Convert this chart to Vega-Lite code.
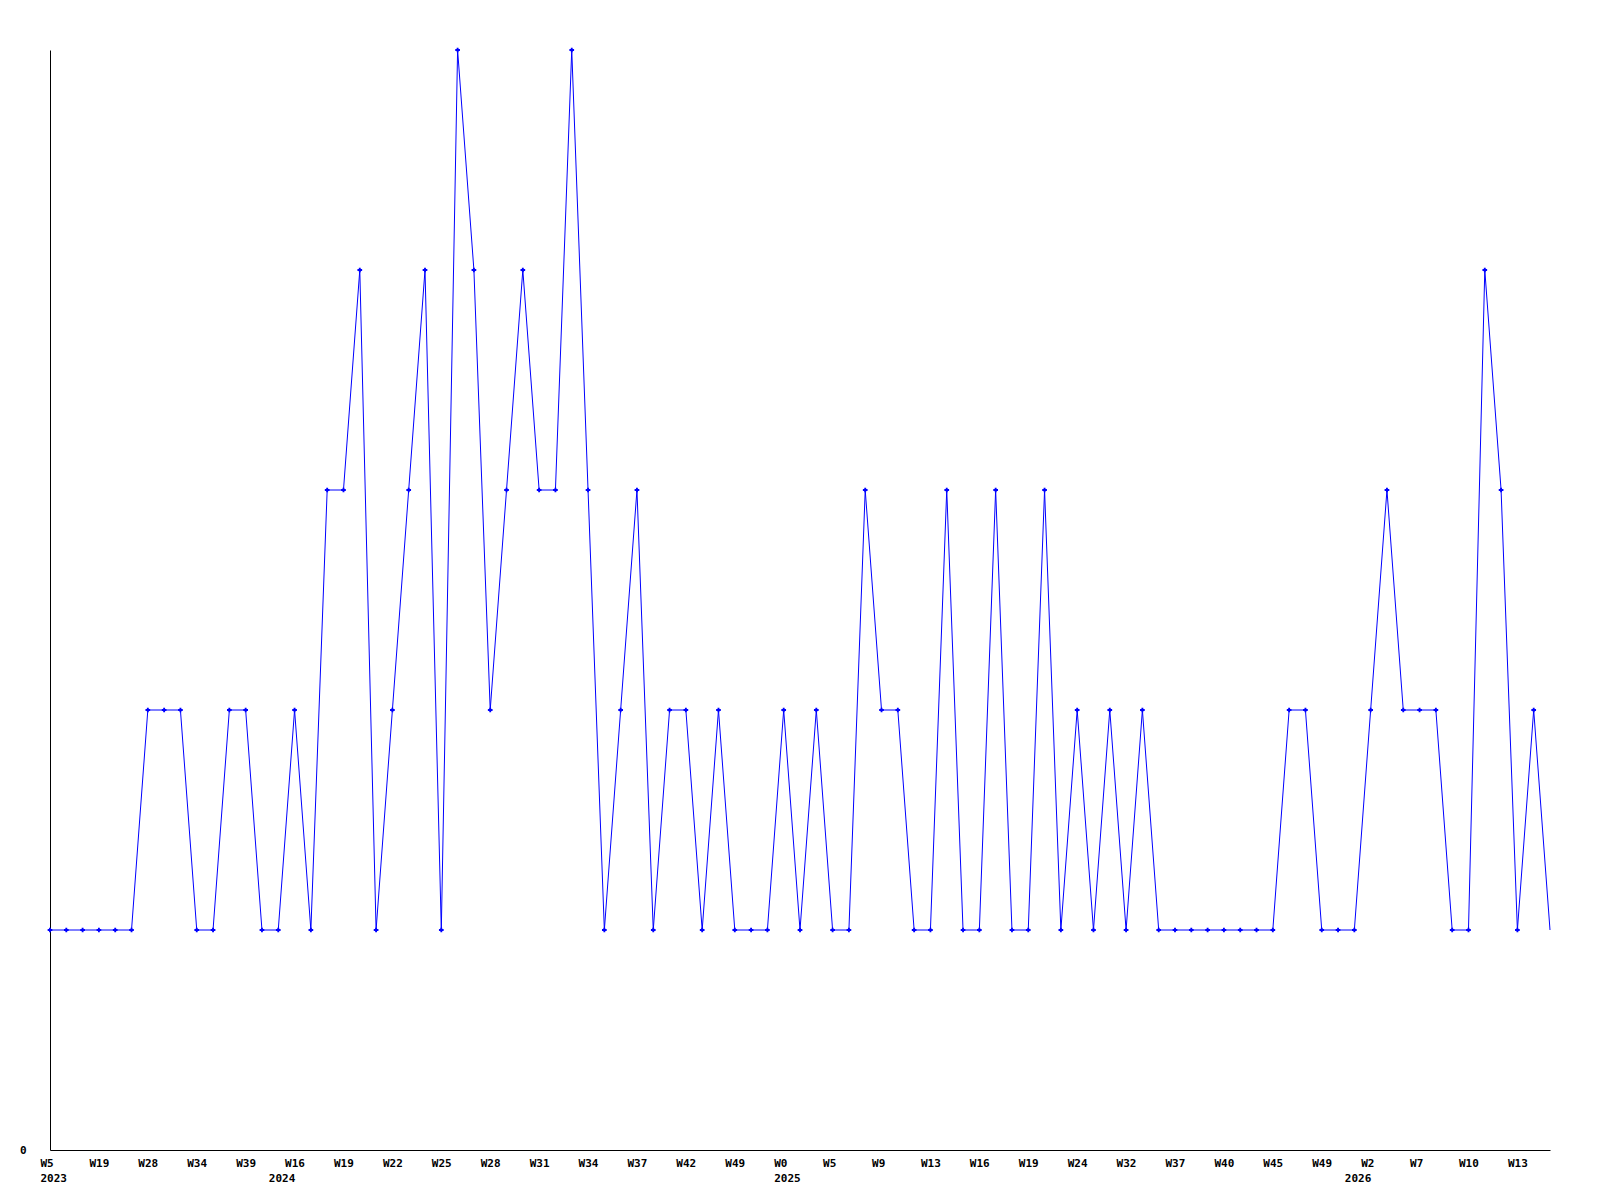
{
  "$schema": "https://vega.github.io/schema/vega-lite/v6.json",
  "autosize": {"type": "none"},
  "padding": {"left": 50, "top": 50, "right": 50, "bottom": 50},
  "width": 1500,
  "height": 1100,
  "background": "white",
  "config": {"view": {"stroke": null}},
  "data": {"values": [
    {"i":0,"v":1},{"i":1,"v":1},{"i":2,"v":1},{"i":3,"v":1},{"i":4,"v":1},{"i":5,"v":1},{"i":6,"v":2},{"i":7,"v":2},{"i":8,"v":2},{"i":9,"v":1},
    {"i":10,"v":1},{"i":11,"v":2},{"i":12,"v":2},{"i":13,"v":1},{"i":14,"v":1},{"i":15,"v":2},{"i":16,"v":1},{"i":17,"v":3},{"i":18,"v":3},{"i":19,"v":4},
    {"i":20,"v":1},{"i":21,"v":2},{"i":22,"v":3},{"i":23,"v":4},{"i":24,"v":1},{"i":25,"v":5},{"i":26,"v":4},{"i":27,"v":2},{"i":28,"v":3},{"i":29,"v":4},
    {"i":30,"v":3},{"i":31,"v":3},{"i":32,"v":5},{"i":33,"v":3},{"i":34,"v":1},{"i":35,"v":2},{"i":36,"v":3},{"i":37,"v":1},{"i":38,"v":2},{"i":39,"v":2},
    {"i":40,"v":1},{"i":41,"v":2},{"i":42,"v":1},{"i":43,"v":1},{"i":44,"v":1},{"i":45,"v":2},{"i":46,"v":1},{"i":47,"v":2},{"i":48,"v":1},{"i":49,"v":1},
    {"i":50,"v":3},{"i":51,"v":2},{"i":52,"v":2},{"i":53,"v":1},{"i":54,"v":1},{"i":55,"v":3},{"i":56,"v":1},{"i":57,"v":1},{"i":58,"v":3},{"i":59,"v":1},
    {"i":60,"v":1},{"i":61,"v":3},{"i":62,"v":1},{"i":63,"v":2},{"i":64,"v":1},{"i":65,"v":2},{"i":66,"v":1},{"i":67,"v":2},{"i":68,"v":1},{"i":69,"v":1},
    {"i":70,"v":1},{"i":71,"v":1},{"i":72,"v":1},{"i":73,"v":1},{"i":74,"v":1},{"i":75,"v":1},{"i":76,"v":2},{"i":77,"v":2},{"i":78,"v":1},{"i":79,"v":1},
    {"i":80,"v":1},{"i":81,"v":2},{"i":82,"v":3},{"i":83,"v":2},{"i":84,"v":2},{"i":85,"v":2},{"i":86,"v":1},{"i":87,"v":1},{"i":88,"v":4},{"i":89,"v":3},
    {"i":90,"v":1},{"i":91,"v":2},{"i":92,"v":1}
  ]},
  "encoding": {
    "x": {
      "field": "i",
      "type": "ordinal",
      "scale": {"type": "point", "padding": 0},
      "axis": {
        "title": null,
        "values": [0,3,6,9,12,14,15,18,21,24,27,30,33,36,39,42,45,48,51,54,57,60,63,66,69,72,75,78,80,81,84,87,90],
        "labelExpr": "({'0':['W5','2023'],'3':'W19','6':'W28','9':'W34','12':'W39','14':['','2024'],'15':'W16','18':'W19','21':'W22','24':'W25','27':'W28','30':'W31','33':'W34','36':'W37','39':'W42','42':'W49','45':['W0','2025'],'48':'W5','51':'W9','54':'W13','57':'W16','60':'W19','63':'W24','66':'W32','69':'W37','72':'W40','75':'W45','78':'W49','80':['','2026'],'81':'W2','84':'W7','87':'W10','90':'W13'})[datum.value]",
        "labelAngle": 0,
        "labelAlign": "left",
        "labelOffset": -10,
        "labelBaseline": "top",
        "labelPadding": 7,
        "labelLineHeight": 15,
        "labelOverlap": false,
        "labelFont": "DejaVu Sans Mono",
        "labelFontWeight": "bold",
        "labelFontSize": 11,
        "labelColor": "black",
        "ticks": false,
        "grid": false,
        "domainColor": "black",
        "domainWidth": 1
      }
    },
    "y": {
      "field": "v",
      "type": "quantitative",
      "scale": {"domain": [0, 5], "nice": false},
      "axis": {
        "title": null,
        "values": [0],
        "ticks": false,
        "grid": false,
        "labelPadding": 24,
        "labelFont": "DejaVu Sans Mono",
        "labelFontWeight": "bold",
        "labelFontSize": 11,
        "labelColor": "black",
        "domainColor": "black",
        "domainWidth": 1
      }
    }
  },
  "layer": [
    {"mark": {"type": "line", "color": "#0000ff", "strokeWidth": 1}},
    {
      "transform": [{"filter": "datum.i < 92"}],
      "mark": {"type": "point", "shape": "cross", "filled": true, "size": 22, "color": "#0000ff", "opacity": 1}
    }
  ]
}
